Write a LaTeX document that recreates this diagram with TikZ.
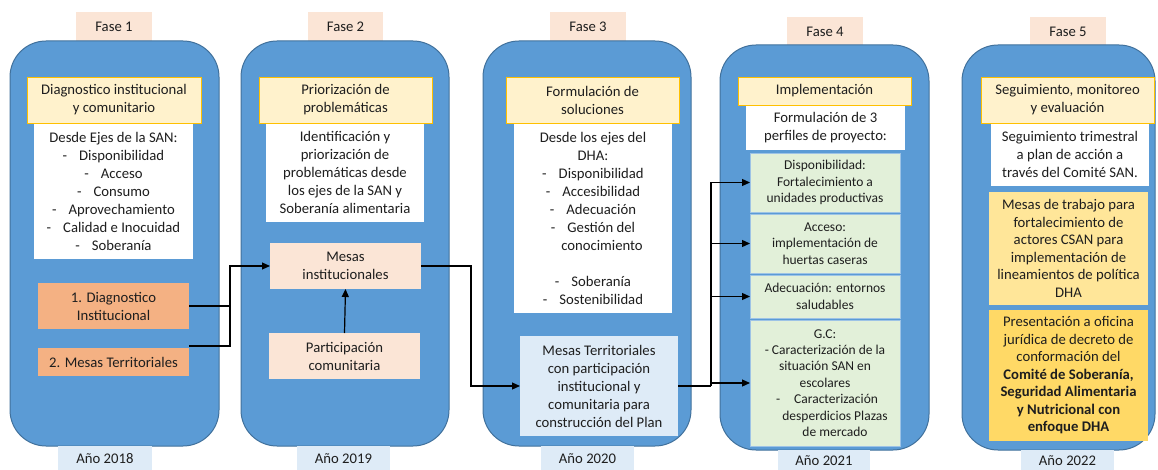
\documentclass[tikz,border=0pt]{standalone}
\usepackage{fontspec}
\setmainfont{Carlito}
\usetikzlibrary{arrows.meta}
\definecolor{bluebg}{HTML}{5B9BD5}
\definecolor{blueline}{HTML}{41719C}
\definecolor{yelfill}{HTML}{FFF2CC}
\definecolor{yelline}{HTML}{FFC000}
\definecolor{peach}{HTML}{FBE5D6}
\definecolor{lightblue}{HTML}{DEEBF7}
\definecolor{orangebox}{HTML}{F4B183}
\definecolor{greenbox}{HTML}{E2F0D9}
\definecolor{greenline}{HTML}{9DC3E6}
\definecolor{goldA}{HTML}{FFE699}
\definecolor{goldB}{HTML}{FFD966}
\definecolor{ink}{HTML}{1E1E1E}
\newcommand\bx[7]{%
  \pgfmathsetmacro\bxw{#4-#2}\pgfmathsetmacro\bxh{#5-#3}%
  \node[#6, minimum width=\bxw pt, minimum height=\bxh pt] (#1) at (#2,#3) {#7};}
\newcommand\dl[1]{-\hspace{12pt}#1}
\begin{document}
\begin{tikzpicture}[x=1pt,y=-1pt,
  base/.style={anchor=north west, inner sep=0pt, outer sep=0pt, align=center, text=ink,
    font=\fontsize{14.7}{18}\selectfont},
  small/.style={base, font=\fontsize{13.5}{16.4}\selectfont},
  phase/.style={base, rounded corners=36pt, fill=bluebg, draw=blueline, line width=1pt},
  fasetab/.style={base, fill=peach},
  yeartab/.style={base, fill=lightblue},
  header/.style={base, fill=yelfill, draw=yelline, line width=0.9pt},
  whitebox/.style={base, fill=white},
  orangebox/.style={base, fill=orangebox},
  peachbox/.style={base, fill=peach},
  bluebox/.style={base, fill=lightblue},
  greenbox/.style={small, fill=greenbox, draw=greenline, line width=0.8pt},
  goldA/.style={base, fill=goldA, font=\fontsize{14.7}{17.5}\selectfont},
  goldB/.style={base, fill=goldB, font=\fontsize{14.7}{17.5}\selectfont},
  line/.style={draw=black, line width=1.2pt},
  conn/.style={line, -{Triangle[length=8pt,width=7pt]}}
]
\useasboundingbox (0,0) rectangle (1158,470);

% Fase tabs
\bx{f1}{76}{12}{152}{42}{fasetab}{Fase 1}
\bx{f2}{308}{12}{383}{42}{fasetab}{Fase 2}
\bx{f3}{550}{12}{626}{42}{fasetab}{Fase 3}
\bx{f4}{787}{17}{863}{46}{fasetab}{Fase 4}
\bx{f5}{1030}{17}{1106}{46}{fasetab}{Fase 5}

% Phase panels
\bx{p1}{10}{41}{219}{446}{phase}{}
\bx{p2}{241}{41}{449}{446}{phase}{}
\bx{p3}{483}{41}{691}{446}{phase}{}
\bx{p4}{720}{45}{929}{450}{phase}{}
\bx{p5}{962}{45}{1155}{450}{phase}{}

% Year tabs
\bx{y1}{58}{446}{152}{472}{yeartab}{Año 2018}
\bx{y2}{297}{446}{390}{472}{yeartab}{Año 2019}
\bx{y3}{541}{446}{634}{472}{yeartab}{Año 2020}
\bx{y4}{778}{450}{870}{472}{yeartab}{Año 2021}
\bx{y5}{1021}{450}{1114}{472}{yeartab}{Año 2022}

% Column 1
\bx{w1}{34}{123}{193}{259}{whitebox}{Desde Ejes de la SAN:\\\dl{Disponibilidad}\\\dl{Acceso}\\\dl{Consumo}\\\dl{Aprovechamiento}\\\dl{Calidad e Inocuidad}\\\dl{Soberanía}}
\bx{h1}{27}{77}{201}{123}{header}{Diagnostico institucional\\y comunitario}
\bx{d1}{38}{283}{189}{329}{orangebox}{1. Diagnostico\\Institucional}
\bx{m2}{38}{348}{189}{376}{orangebox}{2. Mesas Territoriales}

% Column 2
\bx{w2}{266}{123}{424}{222}{whitebox}{Identificación y\\priorización de\\problemáticas desde\\los ejes de la SAN y\\Soberanía alimentaria}
\bx{h2}{259}{77}{432}{123}{header}{Priorización de\\problemáticas}
\bx{mi}{270}{243}{421}{289}{peachbox}{Mesas\\institucionales}
\bx{pc}{269}{333}{420}{379}{peachbox}{Participación\\comunitaria}

% Column 3
\bx{w3}{514}{123}{672}{313}{whitebox}{Desde los ejes del\\DHA:\\\dl{Disponibilidad}\\\dl{Accesibilidad}\\\dl{Adecuación}\\\dl{Gestión del}\\\hspace*{18pt}conocimiento\\[18pt]\dl{Soberanía}\\\dl{Sostenibilidad}}
\bx{h3}{506}{77}{679}{123}{header}{Formulación de\\soluciones}
\bx{mt}{520}{336}{678}{436}{bluebox}{Mesas Territoriales\\con participación\\institucional y\\comunitaria para\\construcción del Plan}

% Column 4
\bx{w4}{746}{105}{905}{150}{whitebox}{Formulación de 3\\perfiles de proyecto:}
\bx{h4}{738}{77}{911}{105}{header}{Implementación}
\bx{g1}{750}{153}{900}{212}{greenbox}{Disponibilidad:\\Fortalecimiento a\\unidades productivas}
\bx{g2}{750}{214}{900}{273}{greenbox}{Acceso:\\implementación de\\huertas caseras}
\bx{g3}{750}{275}{900}{318}{greenbox}{Adecuación: entornos\\saludables}
\bx{g4}{750}{320}{900}{446}{greenbox}{G.C:\\- Caracterización de la\\situación SAN en\\escolares\\\hspace*{4pt}-\hspace{14pt}Caracterización\\\hspace*{20pt}desperdicios Plazas\\\hspace*{20pt}de mercado}

% Column 5
\bx{w5}{991}{123}{1149}{186}{whitebox}{Seguimiento trimestral\\a plan de acción a\\través del Comité SAN.}
\bx{h5}{981}{77}{1154}{123}{header}{Seguimiento, monitoreo\\y evaluación}
\bx{k1}{989}{192}{1148}{305}{goldA}{Mesas de trabajo para\\fortalecimiento de\\actores CSAN para\\implementación de\\lineamientos de política\\DHA}
\bx{k2}{989}{310}{1148}{441}{goldB}{Presentación a oficina\\jurídica de decreto de\\conformación del\\\textbf{Comité de Soberanía,}\\\textbf{Seguridad Alimentaria}\\\textbf{y Nutricional con}\\\textbf{enfoque DHA}}

% Junctions
\coordinate (j1) at (230,266);
\coordinate (j2) at (471,386);
\coordinate (j3) at (711,386);

% Connectors
\draw[conn] (d1.east) -| (j1) -- (mi.west);
\draw[line] ([yshift=2pt]m2.north east) -| (j1);
\draw[conn] (pc.north) -- (mi.south);
\draw[conn] (mi.east) -| (j2) -- (mt.west);
\draw[line] (mt.east) -- (j3);
\draw[conn] (j3) |- (g1.west);
\draw[conn] (j3) |- (g2.west);
\draw[conn] (j3) |- (g3.west);
\draw[conn] (j3) |- (g4.west);
\end{tikzpicture}
\end{document}
